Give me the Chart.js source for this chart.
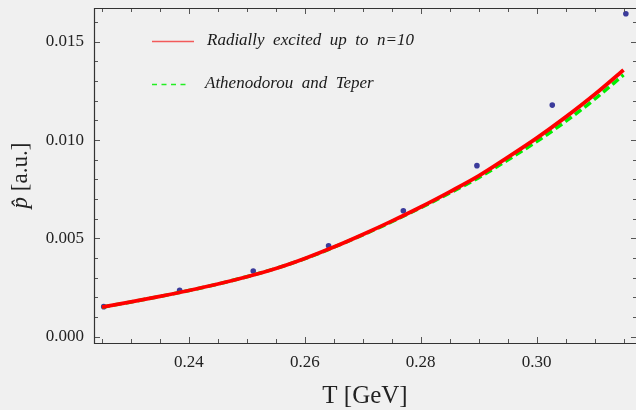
<!DOCTYPE html>
<html>
<head>
<meta charset="utf-8">
<script src="https://cdn.jsdelivr.net/npm/chart.js@4.4.1/dist/chart.umd.min.js"></script>
<style>
  html, body { margin: 0; padding: 0; background: #f0f0f0; overflow: hidden; }
  #wrap { width: 636px; height: 410px; }
</style>
</head>
<body>
<div id="wrap"><canvas id="pChart" width="636" height="410"></canvas></div>
<script>
// curves, every 0.005 GeV
const curveT = [0.225, 0.230, 0.235, 0.240, 0.245, 0.250, 0.255, 0.260, 0.265, 0.270,
                0.275, 0.280, 0.285, 0.290, 0.295, 0.300, 0.305, 0.310, 0.315];
const radialP = [0.00150, 0.00177, 0.00205, 0.00235, 0.00268, 0.00305, 0.00347, 0.00398, 0.00456, 0.00520,
                 0.00588, 0.00660, 0.00737, 0.00818, 0.00912, 0.01010, 0.01117, 0.01232, 0.01357];
const teperP = [0.00150, 0.00177, 0.00205, 0.00235, 0.00268, 0.00305, 0.00347, 0.00397, 0.00455, 0.00518,
                0.00585, 0.00656, 0.00731, 0.00809, 0.00899, 0.00993, 0.01095, 0.01208, 0.01332];

// lattice points (blue dots)
const latticeT = [0.2253, 0.2384, 0.2511, 0.2641, 0.2770, 0.2897, 0.3027, 0.3154];
const latticeP = [0.00153, 0.00236, 0.00334, 0.00463, 0.00641, 0.00870, 0.01178, 0.01643];

const xTicks = [0.225, 0.230, 0.235, 0.240, 0.245, 0.250, 0.255, 0.260, 0.265, 0.270,
                0.275, 0.280, 0.285, 0.290, 0.295, 0.300, 0.305, 0.310, 0.315];
const xLabels = [0.24, 0.26, 0.28, 0.30];
const yTicks = [0, 0.001, 0.002, 0.003, 0.004, 0.005, 0.006, 0.007, 0.008,
                0.009, 0.010, 0.011, 0.012, 0.013, 0.014, 0.015, 0.016];
const yLabels = [0, 0.005, 0.010, 0.015];

const legendLabels = ['Radially  excited  up  to  n=10', 'Athenodorou  and  Teper'];
const yTitle = ['p\u0302', ' [a.u.]'];

const serif = "'Liberation Serif', 'Times New Roman', serif";

function isMajor(list, v) {
  return list.some(m => Math.abs(m - v) < 1e-9);
}

function toPoints(xs, ys) {
  return xs.map((x, i) => ({ x: x, y: ys[i] }));
}

// frame (left, top, bottom) + inward ticks on all four sides
const frameTicks = {
  id: 'frameTicks',
  afterDraw(chart) {
    const { ctx, chartArea: a, scales: { x, y } } = chart;
    ctx.save();
    ctx.strokeStyle = '#555';
    ctx.lineWidth = 1;
    ctx.beginPath();
    xTicks.forEach(v => {
      const px = Math.round(x.getPixelForValue(v)) + 0.5;
      const len = isMajor(xLabels, v) ? 6 : 4;
      ctx.moveTo(px, a.bottom); ctx.lineTo(px, a.bottom - len);
      ctx.moveTo(px, a.top); ctx.lineTo(px, a.top + len);
    });
    yTicks.forEach(v => {
      const py = Math.round(y.getPixelForValue(v)) + 0.5;
      const len = isMajor(yLabels, v) ? 6 : 4;
      ctx.moveTo(a.left, py); ctx.lineTo(a.left + len, py);
      ctx.moveTo(a.right + 1, py); ctx.lineTo(a.right + 1 - len, py);
    });
    ctx.stroke();

    const l = Math.round(a.left) + 0.5, t = Math.round(a.top) + 0.5, b = Math.round(a.bottom) + 0.5;
    ctx.strokeStyle = '#333';
    ctx.lineWidth = 1.2;
    ctx.beginPath();
    ctx.moveTo(a.right + 2, t); ctx.lineTo(l, t); ctx.lineTo(l, b); ctx.lineTo(a.right + 2, b);
    ctx.stroke();
    ctx.restore();
  }
};

// y axis title: italic p-hat followed by upright [a.u.]
const yTitlePlugin = {
  id: 'yTitlePlugin',
  afterDraw(chart) {
    const { ctx, chartArea: a } = chart;
    const fItal = 'italic 23px ' + serif, fRom = '23px ' + serif;
    ctx.save();
    ctx.fillStyle = '#222';
    ctx.textBaseline = 'middle';
    ctx.font = fItal; const w1 = ctx.measureText(yTitle[0]).width;
    ctx.font = fRom; const w2 = ctx.measureText(yTitle[1]).width;
    ctx.translate(21, (a.top + a.bottom) / 2);
    ctx.rotate(-Math.PI / 2);
    const start = -(w1 + w2) / 2;
    ctx.font = fItal; ctx.fillText(yTitle[0], start, 0);
    ctx.font = fRom; ctx.fillText(yTitle[1], start + w1, 0);
    ctx.restore();
  }
};

// legend drawn inside the plot, top left
const innerLegend = {
  id: 'innerLegend',
  afterDraw(chart) {
    const { ctx } = chart;
    const sets = chart.data.datasets;
    ctx.save();
    ctx.font = 'italic 17px ' + serif;
    ctx.textBaseline = 'middle';
    ctx.fillStyle = '#1a1a1a';
    [0, 1].forEach(i => {
      const rowY = 41 + i * 43;
      ctx.beginPath();
      ctx.strokeStyle = i === 0 ? '#f25a5a' : '#22ee22';
      ctx.lineWidth = 1.5;
      ctx.setLineDash(sets[i].borderDash && sets[i].borderDash.length ? [5, 4.5] : []);
      ctx.moveTo(152, rowY + 0.5);
      ctx.lineTo(i === 0 ? 194 : 188, rowY + 0.5);
      ctx.stroke();
      ctx.fillText(legendLabels[i], i === 0 ? 207 : 205, rowY);
    });
    ctx.restore();
  }
};

new Chart(document.getElementById('pChart'), {
  type: 'scatter',
  data: {
    datasets: [
      {
        label: legendLabels[0],
        data: toPoints(curveT, radialP),
        showLine: true,
        borderColor: '#ff0000',
        borderWidth: 3.8,
        pointRadius: 0,
        cubicInterpolationMode: 'monotone'
      },
      {
        label: legendLabels[1],
        data: toPoints(curveT, teperP),
        showLine: true,
        borderColor: '#00ee00',
        borderWidth: 3.5,
        borderDash: [8, 4],
        pointRadius: 0,
        cubicInterpolationMode: 'monotone'
      },
      {
        label: 'lattice',
        data: toPoints(latticeT, latticeP),
        showLine: false,
        pointRadius: 2.8,
        pointBackgroundColor: '#3b3b9b',
        pointBorderWidth: 0
      }
    ]
  },
  options: {
    responsive: false,
    animation: false,
    devicePixelRatio: 1,
    layout: { autoPadding: false, padding: { top: 8, right: 0, left: 0, bottom: 0 } },
    plugins: {
      legend: { display: false },
      tooltip: { enabled: false }
    },
    scales: {
      x: {
        type: 'linear',
        min: 0.22362,
        max: 0.31715,
        afterBuildTicks: s => { s.ticks = xTicks.map(v => ({ value: v })); },
        afterFit: s => { s.height = 67; s.paddingLeft = 0; s.paddingRight = 0; },
        grid: { display: false, drawTicks: false },
        border: { display: false },
        ticks: {
          autoSkip: false,
          maxRotation: 0,
          padding: 9,
          color: '#222',
          font: { family: serif, size: 17 },
          callback: v => isMajor(xLabels, v) ? v.toFixed(2) : ''
        },
        title: {
          display: true,
          text: 'T [GeV]',
          color: '#222',
          font: { family: serif, size: 25, lineHeight: 1 },
          padding: { top: 0, bottom: 1 }
        }
      },
      y: {
        type: 'linear',
        min: -0.00032,
        max: 0.01672,
        afterBuildTicks: s => { s.ticks = yTicks.map(v => ({ value: v })); },
        afterFit: s => { s.width = 94; s.paddingTop = 0; s.paddingBottom = 0; },
        grid: { display: false, drawTicks: false },
        border: { display: false },
        ticks: {
          autoSkip: false,
          padding: 10,
          color: '#222',
          font: { family: serif, size: 17 },
          callback: v => isMajor(yLabels, v) ? v.toFixed(3) : ''
        },
        title: { display: false }
      }
    }
  },
  plugins: [frameTicks, yTitlePlugin, innerLegend]
});
</script>
</body>
</html>
